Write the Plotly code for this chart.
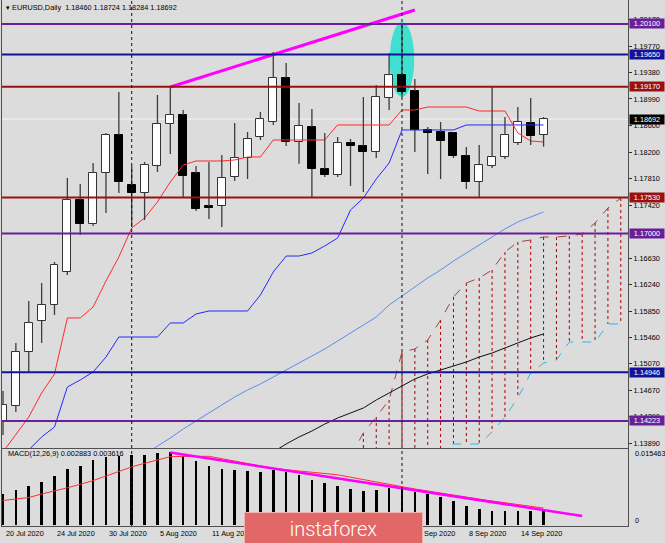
import plotly.graph_objects as go

W, H = 665, 543

# ---------------- data ----------------
bar_idx = list(range(43))
opens = [1.14208, 1.14445, 1.15244, 1.15703, 1.15940, 1.16429, 1.17495, 1.17140, 1.17894, 1.18457,
         1.17717, 1.17598, 1.17998, 1.18620, 1.18753, 1.17894, 1.17400, 1.17405, 1.17835, 1.18116,
         1.18427, 1.18649, 1.19301, 1.18353, 1.18575, 1.17953, 1.17865, 1.18338, 1.18294, 1.18205,
         1.19004, 1.19345, 1.19108, 1.18531, 1.18501, 1.18486, 1.18146, 1.17761, 1.17998, 1.18131,
         1.18338, 1.18634, 1.18460]
highs = [1.14667, 1.15378, 1.16000, 1.16266, 1.16577, 1.17820, 1.17731, 1.18042, 1.18486, 1.19093,
         1.18000, 1.18057, 1.19049, 1.19167, 1.18827, 1.17998, 1.18057, 1.18161, 1.18634, 1.18501,
         1.18797, 1.19685, 1.19523, 1.18930, 1.18842, 1.18486, 1.18427, 1.18398, 1.19019, 1.19197,
         1.19671, 1.20115, 1.19286, 1.18575, 1.18649, 1.18500, 1.18280, 1.18309, 1.19167, 1.18723,
         1.18871, 1.19004, 1.18724]
lows = [1.14016, 1.14356, 1.14952, 1.15378, 1.15792, 1.16384, 1.16976, 1.17110, 1.17302, 1.17598,
        1.17095, 1.17198, 1.17909, 1.18176, 1.17539, 1.17332, 1.17213, 1.17095, 1.17776, 1.17805,
        1.18383, 1.18605, 1.18294, 1.18030, 1.17539, 1.17835, 1.17835, 1.17702, 1.17613, 1.18116,
        1.18827, 1.19019, 1.18205, 1.17880, 1.17805, 1.18116, 1.17657, 1.17524, 1.17968, 1.18101,
        1.18309, 1.18309, 1.18284]
closes = [1.14460, 1.15244, 1.15674, 1.15940, 1.16533, 1.17495, 1.17140, 1.17894, 1.18457, 1.17761,
          1.17598, 1.18013, 1.18620, 1.18753, 1.17850, 1.17361, 1.17380, 1.17820, 1.18116, 1.18398,
          1.18694, 1.19301, 1.18353, 1.18590, 1.17953, 1.17865, 1.18338, 1.18294, 1.18205, 1.19019,
          1.19345, 1.19093, 1.18531, 1.18486, 1.18368, 1.18146, 1.17761, 1.18013, 1.18131, 1.18457,
          1.18649, 1.18442, 1.18692]

tenkan = [1.13764, 1.14030, 1.14282, 1.14637, 1.14919, 1.15748, 1.15748, 1.15910, 1.16295, 1.16651,
          1.17080, 1.17228, 1.17465, 1.17761, 1.18013, 1.18072, 1.18072, 1.18072, 1.18087, 1.18131,
          1.18131, 1.18383, 1.18383, 1.18383, 1.18383, 1.18383, 1.18605, 1.18605, 1.18605, 1.18605,
          1.18605, 1.18827, 1.18827, 1.18871, 1.18871, 1.18871, 1.18871, 1.18812, 1.18812, 1.18812,
          1.18486, 1.18368, 1.18353]
kijun = [1.13650, 1.13700, 1.13794, 1.13986, 1.14134, 1.14726, 1.14830, 1.14948, 1.15170, 1.15466,
         1.15466, 1.15466, 1.15466, 1.15674, 1.15674, 1.15807, 1.15851, 1.15851, 1.15851, 1.15851,
         1.16088, 1.16429, 1.16665, 1.16665, 1.16710, 1.16814, 1.16932, 1.17346, 1.17524, 1.17805,
         1.18042, 1.18531, 1.18531, 1.18531, 1.18531, 1.18531, 1.18605, 1.18605, 1.18605, 1.18605,
         1.18605, 1.18605, 1.18605]

ma_blue_idx = list(range(11, 43))
ma_blue = [1.13719, 1.13853, 1.13971, 1.14104, 1.14223, 1.14341, 1.14460, 1.14578, 1.14682, 1.14771,
           1.14874, 1.14978, 1.15081, 1.15185, 1.15289, 1.15407, 1.15526, 1.15644, 1.15762, 1.15940,
           1.16073, 1.16207, 1.16340, 1.16458, 1.16591, 1.16710, 1.16828, 1.16947, 1.17065, 1.17169,
           1.17243, 1.17317]
ma_black_idx = list(range(21, 43))
ma_black = [1.13764, 1.13882, 1.13986, 1.14075, 1.14178, 1.14267, 1.14341, 1.14415, 1.14534, 1.14637,
            1.14741, 1.14845, 1.14919, 1.14978, 1.15037, 1.15096, 1.15170, 1.15229, 1.15304, 1.15378,
            1.15452, 1.15511]

cloud_idx = list(range(27, 49))
span_a = [1.13700, 1.14045, 1.14282, 1.14534, 1.15244, 1.15289, 1.15422, 1.15718, 1.16059, 1.16266,
          1.16340, 1.16458, 1.16725, 1.16873, 1.16902, 1.16947, 1.16947, 1.16962, 1.16991, 1.17154,
          1.17376, 1.17524]
span_b = [1.13600, 1.13600, 1.13600, 1.13600, 1.13600, 1.13600, 1.13600, 1.13720, 1.13882, 1.13882,
          1.13882, 1.14060, 1.14282, 1.14563, 1.14933, 1.15081, 1.15126, 1.15392, 1.15392, 1.15392,
          1.15659, 1.15659]

macd_hist = [0.00655, 0.00746, 0.00838, 0.00923, 0.01045, 0.01194, 0.01265, 0.01386, 0.01457, 0.01478,
             0.01493, 0.01493, 0.01530, 0.015463, 0.01478, 0.01371, 0.01258, 0.01194, 0.01173, 0.01152,
             0.01137, 0.01173, 0.01124, 0.01073, 0.00960, 0.00889, 0.00832, 0.00768, 0.00725, 0.00746,
             0.00783, 0.00804, 0.00710, 0.00655, 0.00591, 0.00518, 0.00412, 0.00341, 0.00305, 0.00305,
             0.00305, 0.00299, 0.002883]
macd_signal = [0.00522, 0.00554, 0.00586, 0.00661, 0.00719, 0.00793, 0.00868, 0.00947, 0.01045, 0.01143,
               0.01239, 0.01316, 0.01393, 0.01457, 0.01463, 0.01472, 0.01465, 0.01414, 0.01365, 0.01314,
               0.01260, 0.01209, 0.01179, 0.01149, 0.01118, 0.01088, 0.01071, 0.01019, 0.00966, 0.00913,
               0.00862, 0.00810, 0.00768, 0.00725, 0.00680, 0.00629, 0.00593, 0.00552, 0.00512, 0.00473,
               0.00433, 0.00395, 0.003616]

trend_main_x = [13, 32]
trend_main_y = [1.19167, 1.20307]
trend_macd_x = [13, 45]
trend_macd_y = [0.015463, 0.00192]

vline_bars = [10, 31]
levels = [1.20100, 1.19650, 1.19170, 1.17530, 1.17000, 1.14946, 1.14223]
level_colors = ["#6a1f9a", "#12129a", "#9a1010", "#9a1010", "#6a1f9a", "#12129a", "#6a1f9a"]

price_ticks = [1.20170, 1.19770, 1.19380, 1.18990, 1.18600, 1.18200, 1.17810, 1.17420,
               1.16630, 1.16240, 1.15850, 1.15460, 1.15070, 1.14670, 1.14290, 1.13890]
date_tick_bars = [0, 4, 8, 12, 16, 32, 36, 40]
date_tick_labels = ["20 Jul 2020", "24 Jul 2020", "30 Jul 2020", "5 Aug 2020", "11 Aug 2020",
                    "2 Sep 2020", "8 Sep 2020", "14 Sep 2020"]
macd_max_label = 0.015463

# ---------------- helpers ----------------
FONT = "Liberation Sans"
FS = 7.3
BG = "#dcdcdc"


def px(x):
    return x / W


def py(y):
    return 1 - y / H


fig = go.Figure()

# cloud hatching
hx, hy = [], []
for i, a, b in zip(cloud_idx, span_a, span_b):
    hx += [i, i, None]
    hy += [a, b, None]
fig.add_trace(go.Scatter(x=hx, y=hy, mode="lines", line=dict(color="#a80000", width=1, dash="dot"),
                         xaxis="x", yaxis="y", hoverinfo="skip"))
fig.add_trace(go.Scatter(x=cloud_idx, y=span_a, mode="lines",
                         line=dict(color="#a8403a", width=1, dash="dash"), xaxis="x", yaxis="y"))
fig.add_trace(go.Scatter(x=cloud_idx, y=span_b, mode="lines",
                         line=dict(color="#2ab8f0", width=1, dash="dash"), xaxis="x", yaxis="y"))
# moving averages
fig.add_trace(go.Scatter(x=ma_blue_idx, y=ma_blue, mode="lines",
                         line=dict(color="#5a8cf0", width=1), xaxis="x", yaxis="y"))
fig.add_trace(go.Scatter(x=ma_black_idx, y=ma_black, mode="lines",
                         line=dict(color="#101010", width=1), xaxis="x", yaxis="y"))
# kijun / tenkan
fig.add_trace(go.Scatter(x=bar_idx, y=kijun, mode="lines",
                         line=dict(color="#2828ff", width=1), xaxis="x", yaxis="y"))
fig.add_trace(go.Scatter(x=bar_idx, y=tenkan, mode="lines",
                         line=dict(color="#ff2a2a", width=1), xaxis="x", yaxis="y"))

# candle wicks (split so they never cross the bodies)
wx, wy = [], []
for i, o, h, l, c in zip(bar_idx, opens, highs, lows, closes):
    top, bot = max(o, c), min(o, c)
    wx += [i, i, None, i, i, None]
    wy += [h, top, None, bot, l, None]
fig.add_trace(go.Scatter(x=wx, y=wy, mode="lines", line=dict(color="#3c3c3c", width=1.3),
                         xaxis="x", yaxis="y", hoverinfo="skip"))

# candle bodies
up_x = [i for i, o, c in zip(bar_idx, opens, closes) if c >= o]
up_base = [o for o, c in zip(opens, closes) if c >= o]
up_h = [c - o for o, c in zip(opens, closes) if c >= o]
dn_x = [i for i, o, c in zip(bar_idx, opens, closes) if c < o]
dn_base = [c for o, c in zip(opens, closes) if c < o]
dn_h = [o - c for o, c in zip(opens, closes) if c < o]
fig.add_trace(go.Bar(x=up_x, y=up_h, base=up_base, width=0.62, marker=dict(color="white",
                     line=dict(color="#333333", width=1)), xaxis="x", yaxis="y"))
fig.add_trace(go.Bar(x=dn_x, y=dn_h, base=dn_base, width=0.62, marker=dict(color="black",
                     line=dict(color="black", width=1)), xaxis="x", yaxis="y"))

# magenta trend line main
fig.add_trace(go.Scatter(x=trend_main_x, y=trend_main_y, mode="lines",
                         line=dict(color="#ff00ff", width=3), xaxis="x", yaxis="y"))

# MACD
fig.add_trace(go.Bar(x=bar_idx, y=macd_hist, width=0.2, marker=dict(color="black", line=dict(width=0)),
                     xaxis="x2", yaxis="y2"))
fig.add_trace(go.Scatter(x=bar_idx, y=macd_signal, mode="lines", line=dict(color="#ff3030", width=1),
                         xaxis="x2", yaxis="y2"))
fig.add_trace(go.Scatter(x=trend_macd_x, y=trend_macd_y, mode="lines",
                         line=dict(color="#ff00ff", width=2.5), xaxis="x2", yaxis="y2"))

shapes = []
# highlighted ellipse
shapes.append(dict(type="circle", xref="x", yref="y", x0=30.05, x1=31.95, y0=1.1902, y1=1.2013,
                   fillcolor="#40e0d0", line=dict(width=0), layer="below"))
# levels
for lv, col in zip(levels, level_colors):
    shapes.append(dict(type="line", xref="x domain", yref="y", x0=0, x1=1, y0=lv, y1=lv,
                       line=dict(color=col, width=2), layer="above"))
# bid line
shapes.append(dict(type="line", xref="x domain", yref="y", x0=0, x1=1, y0=closes[-1], y1=closes[-1],
                   line=dict(color="#f4f4f4", width=1), layer="below"))
# vertical dotted lines
for b in vline_bars:
    shapes.append(dict(type="line", xref="x", yref="paper", x0=b, x1=b, y0=py(526), y1=1,
                       line=dict(color="#111111", width=1, dash="dot"), layer="above"))

annotations = []
# header
annotations.append(dict(xref="paper", yref="paper", x=px(4), y=py(8), xanchor="left", yanchor="middle",
                        showarrow=False, font=dict(family=FONT, size=FS, color="black"),
                        text="▾ EURUSD,Daily  %.5f %.5f %.5f %.5f" % (opens[-1], highs[-1], lows[-1], closes[-1])))
annotations.append(dict(xref="paper", yref="paper", x=px(6), y=py(453), xanchor="left", yanchor="middle",
                        showarrow=False, font=dict(family=FONT, size=FS, color="black"),
                        text="MACD(12,26,9) %.6f %.6f" % (macd_hist[-1], macd_signal[-1])))
# level label boxes
for lv, col in zip(levels, level_colors):
    annotations.append(dict(xref="paper", yref="y", x=px(629), y=lv, xanchor="left", yanchor="middle",
                            showarrow=False, text="%.5f" % lv, bgcolor=col, width=34, height=9,
                            borderpad=0, font=dict(family=FONT, size=FS, color="white")))
annotations.append(dict(xref="paper", yref="y", x=px(629), y=closes[-1], xanchor="left", yanchor="middle",
                        showarrow=False, text="%.5f" % closes[-1], bgcolor="black", width=34, height=9,
                        borderpad=0, font=dict(family=FONT, size=FS, color="white")))
# MACD axis labels
annotations.append(dict(xref="paper", yref="paper", x=px(633), y=py(453), xanchor="left", yanchor="middle",
                        showarrow=False, text="%.6f" % macd_max_label, font=dict(family=FONT, size=FS, color="black")))
annotations.append(dict(xref="paper", yref="paper", x=px(633), y=py(520), xanchor="left", yanchor="middle",
                        showarrow=False, text="0", font=dict(family=FONT, size=FS, color="black")))
# date labels
for b, lab in zip(date_tick_bars, date_tick_labels):
    annotations.append(dict(xref="x2", yref="paper", x=b, y=py(533), xanchor="left", yanchor="middle",
                            xshift=1, showarrow=False, text=lab, font=dict(family=FONT, size=FS, color="black")))
# logo
annotations.append(dict(xref="paper", yref="paper", x=px(333.5), y=py(528), xanchor="center", yanchor="middle",
                        showarrow=False, text="instaforex", bgcolor="#e26868", width=177, height=31,
                        borderpad=0, bordercolor="#f2b0b0", borderwidth=1,
                        font=dict(family="Roboto", size=20, color="white", weight=300)))

XD = [px(2), px(628)]
fig.update_layout(
    width=W, height=H, autosize=False,
    margin=dict(l=0, r=0, t=0, b=0),
    paper_bgcolor=BG, plot_bgcolor=BG,
    showlegend=False, barmode="overlay", bargap=0,
    xaxis=dict(domain=XD, range=[-0.078, 48.56], anchor="y", showgrid=False, zeroline=False,
               showticklabels=False, showline=True, mirror=True, linecolor="#505050", linewidth=1, ticks=""),
    xaxis2=dict(domain=XD, range=[-0.078, 48.56], anchor="y2", matches="x", showgrid=False, zeroline=False,
                showticklabels=False, showline=True, mirror=True, linecolor="#505050", linewidth=1, ticks=""),
    yaxis=dict(domain=[py(448), 1], range=[1.13823, 1.20455], side="right", anchor="x",
               showgrid=False, zeroline=False, showline=True, mirror=True, linecolor="#505050",
               linewidth=1, ticks="outside", ticklen=3, tickcolor="#303030",
               tickvals=price_ticks, ticktext=["%.5f" % t for t in price_ticks],
               tickfont=dict(family=FONT, size=FS, color="black")),
    yaxis2=dict(domain=[py(526), py(449)], range=[-0.000213, 0.016208], side="right", anchor="x2",
                showgrid=False, zeroline=False, showline=True, mirror=True, linecolor="#505050",
                linewidth=1, showticklabels=False, ticks=""),
    shapes=shapes, annotations=annotations,
)

fig.write_html("out.html", config={"displayModeBar": False},
               post_script="document.body.style.margin='0';document.body.style.background='%s';" % BG)
